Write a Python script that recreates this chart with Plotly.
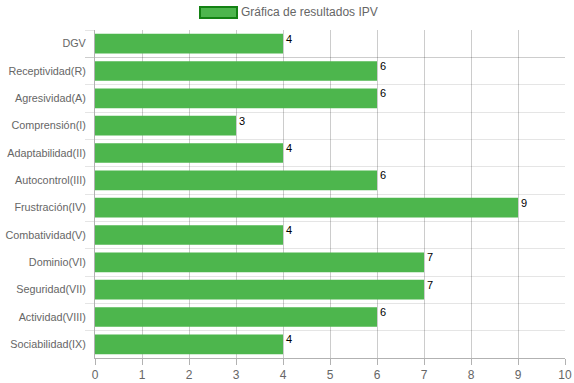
import plotly.graph_objects as go

categories = ["DGV", "Receptividad(R)", "Agresividad(A)", "Comprensión(I)",
              "Adaptabilidad(II)", "Autocontrol(III)", "Frustración(IV)",
              "Combatividad(V)", "Dominio(VI)", "Seguridad(VII)",
              "Actividad(VIII)", "Sociabilidad(IX)"]
values = [4, 6, 6, 3, 4, 6, 9, 4, 7, 7, 6, 4]
x_ticks = list(range(0, 11))
legend_label = "Gráfica de resultados IPV"

bar_color = "rgb(77,182,77)"
edge_color = "rgb(20,130,20)"
font_family = "Liberation Sans, Arial, sans-serif"

fig = go.Figure()
fig.add_trace(go.Bar(
    x=values, y=categories, orientation="h",
    marker=dict(color=bar_color, line=dict(width=0)),
    width=0.72, showlegend=False, hoverinfo="x+y",
))

for v, c in zip(values, categories):
    fig.add_annotation(x=v, y=c, text=str(v), showarrow=False,
                       xanchor="left", yanchor="middle", xshift=1, yshift=5,
                       font=dict(family=font_family, size=11, color="#000"))

# legend drawn as a box + text at the top
fig.add_shape(type="rect", xref="paper", yref="paper",
              x0=(200 - 95) / 470, x1=(237 - 95) / 470,
              y0=1 + (30 - 18) / 328, y1=1 + (30 - 7) / 328,
              fillcolor=bar_color, line=dict(color=edge_color, width=2))
fig.add_annotation(xref="paper", yref="paper", x=(241 - 95) / 470, y=1 + (30 - 12.5) / 328,
                   text=legend_label, showarrow=False, xanchor="left", yanchor="middle",
                   xshift=-2,
                   font=dict(family=font_family, size=12, color="#666"))

fig.update_layout(
    width=574, height=383,
    margin=dict(l=95, r=9, t=30, b=25),
    plot_bgcolor="white", paper_bgcolor="white",
    font=dict(family=font_family, size=12, color="#666"),
    xaxis=dict(range=[0, 10], tickvals=x_ticks, showgrid=True,
               gridcolor="rgba(0,0,0,0.2)", gridwidth=1,
               zeroline=False, showline=True, linecolor="rgba(0,0,0,0.3)",
               ticks="outside", ticklen=6, tickcolor="rgba(0,0,0,0.3)",
               tickfont=dict(size=12), automargin=False,
               layer="above traces", fixedrange=True),
    yaxis=dict(autorange="reversed", type="category", tickson="boundaries",
               showgrid=True, gridcolor="rgba(0,0,0,0.1)", gridwidth=1,
               showline=True, linecolor="rgba(0,0,0,0.3)",
               ticks="outside", ticklen=9, tickcolor="rgba(0,0,0,0.1)",
               tickfont=dict(size=10.8), automargin=False,
               ticklabelstandoff=6, layer="above traces", fixedrange=True),
    bargap=0.28,
)

fig.write_html("out.html")
